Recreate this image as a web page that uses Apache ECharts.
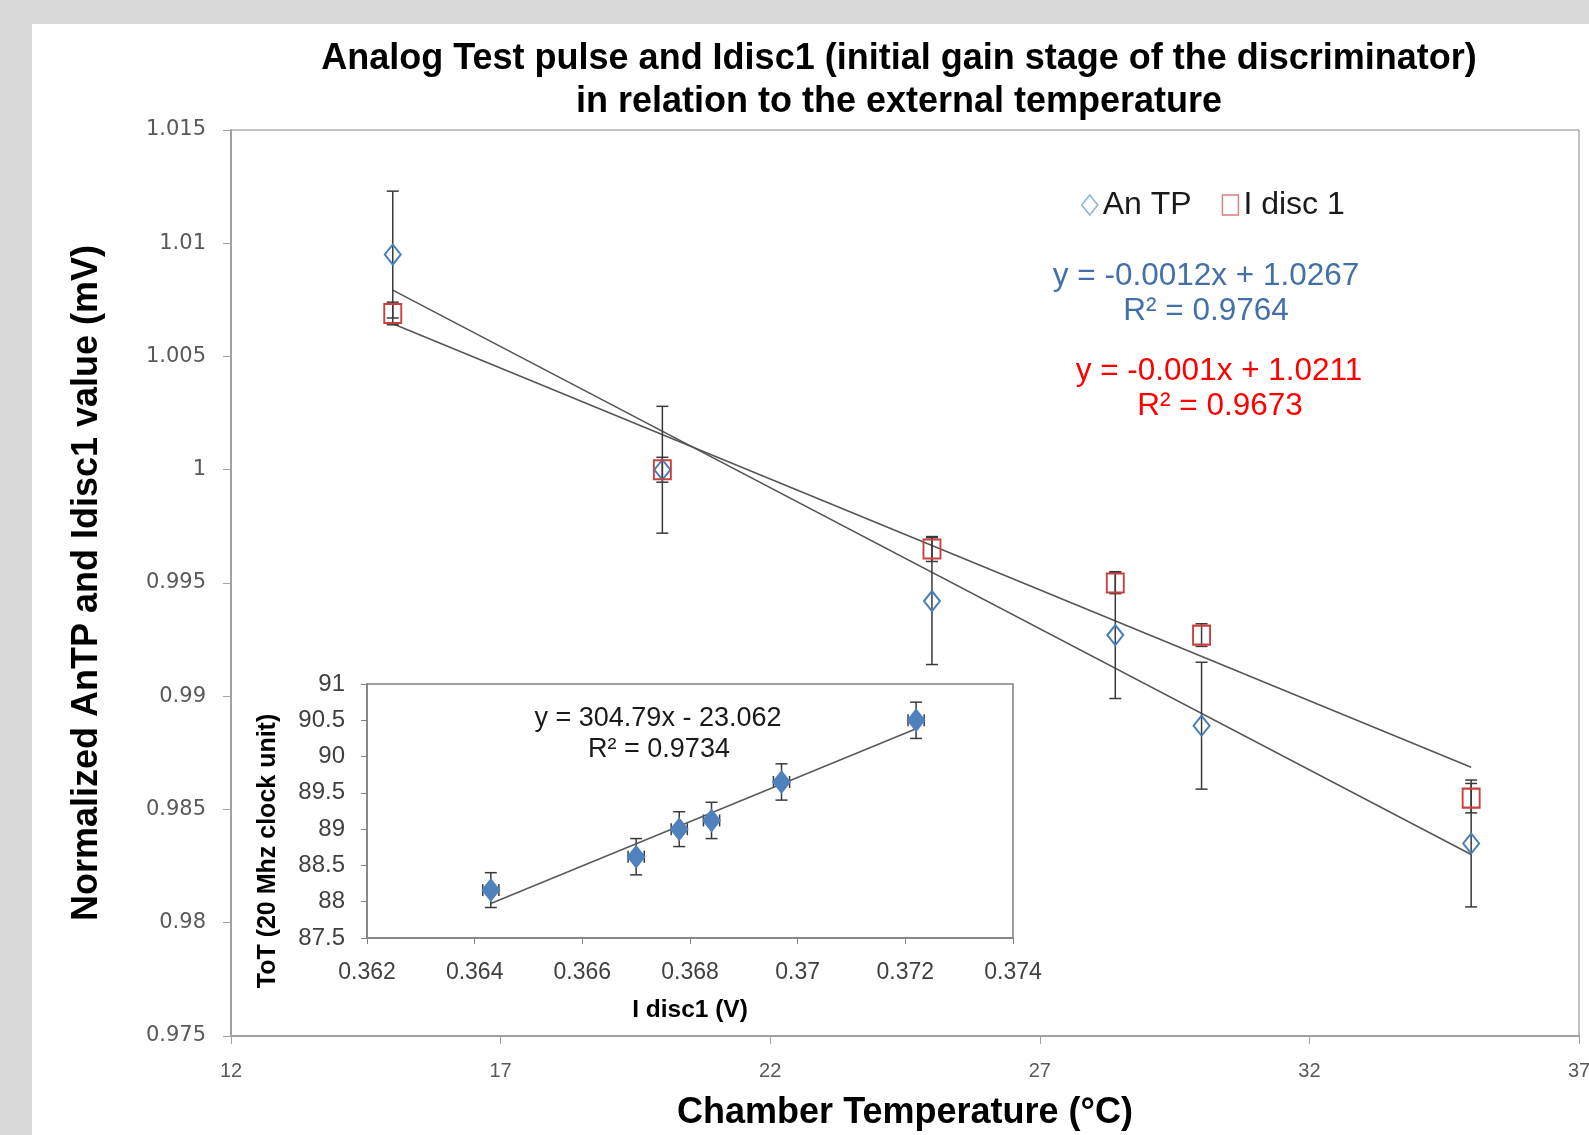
<!DOCTYPE html>
<html>
<head>
<meta charset="utf-8">
<script src="https://cdn.jsdelivr.net/npm/echarts@6.0.0/dist/echarts.min.js"></script>
<style>
html,body{margin:0;padding:0;background:#d9d9d9;}
#chart{width:1589px;height:1135px;}
</style>
</head>
<body>
<div id="chart"></div>
<script>
// ---- Main chart data ----
const tempC = [15, 20, 25, 28.4, 30, 35];
const anTP = [1.0095, 1.0000, 0.9942, 0.9927, 0.9887, 0.9835];
const anTPErr = [0.0028, 0.0028, 0.0028, 0.0028, 0.0028, 0.0028];
const iDisc1 = [1.0069, 1.0000, 0.9965, 0.9950, 0.9927, 0.9855];
const iDisc1Err = [0.0005, 0.00055, 0.00055, 0.00047, 0.0005, 0.00065];
const mainXTicks = [12, 17, 22, 27, 32, 37];
const mainYTicks = [0.975, 0.98, 0.985, 0.99, 0.995, 1, 1.005, 1.01, 1.015];
const mainYTickLabels = ['0.975', '0.98', '0.985', '0.99', '0.995', '1', '1.005', '1.01', '1.015'];

// ---- Inset data ----
const insetIDisc = [0.3643, 0.3670, 0.3678, 0.3684, 0.3697, 0.3722];
const insetIDiscErr = [0.00015, 0.00015, 0.00015, 0.00015, 0.00015, 0.00015];
const insetToT = [88.16, 88.62, 89.00, 89.12, 89.65, 90.50];
const insetToTErr = [0.24, 0.25, 0.24, 0.25, 0.25, 0.25];
const insetXTicks = [0.362, 0.364, 0.366, 0.368, 0.37, 0.372, 0.374];
const insetXTickLabels = ['0.362', '0.364', '0.366', '0.368', '0.37', '0.372', '0.374'];
const insetYTicks = [87.5, 88, 88.5, 89, 89.5, 90, 90.5, 91];
const insetYTickLabels = ['87.5', '88', '88.5', '89', '89.5', '90', '90.5', '91'];

// ---- Texts ----
const titleText = 'Analog Test pulse and Idisc1 (initial gain stage of the discriminator)\nin relation to the external temperature';
const eqAnTP = ['y = -0.0012x + 1.0267', 'R² = 0.9764'];
const eqIDisc = ['y = -0.001x + 1.0211', 'R² = 0.9673'];
const eqInset = ['y = 304.79x - 23.062', 'R² = 0.9734'];

function linFit(xs, ys) {
  const n = xs.length;
  const mx = xs.reduce((a, b) => a + b, 0) / n;
  const my = ys.reduce((a, b) => a + b, 0) / n;
  let sxy = 0, sxx = 0;
  for (let i = 0; i < n; i++) { sxy += (xs[i] - mx) * (ys[i] - my); sxx += (xs[i] - mx) * (xs[i] - mx); }
  const b = sxy / sxx;
  return { a: my - b * mx, b };
}
function trendPoints(xs, ys) {
  const f = linFit(xs, ys);
  const x0 = Math.min(...xs), x1 = Math.max(...xs);
  return [[x0, f.a + f.b * x0], [x1, f.a + f.b * x1]];
}
function zip(xs, ys) { return xs.map((x, i) => [x, ys[i]]); }

function errRender(capW, withX, color) {
  return function (params, api) {
    const x = api.value(0), y = api.value(1), ey = api.value(2), ex = api.value(3);
    const st = { stroke: color, lineWidth: 1.5, fill: null };
    const t = api.coord([x, y + ey]);
    const b = api.coord([x, y - ey]);
    const children = [
      { type: 'line', shape: { x1: t[0], y1: t[1], x2: b[0], y2: b[1] }, style: st },
      { type: 'line', shape: { x1: t[0] - capW, y1: t[1], x2: t[0] + capW, y2: t[1] }, style: st },
      { type: 'line', shape: { x1: b[0] - capW, y1: b[1], x2: b[0] + capW, y2: b[1] }, style: st }
    ];
    if (withX) {
      const l = api.coord([x - ex, y]);
      const r = api.coord([x + ex, y]);
      children.push(
        { type: 'line', shape: { x1: l[0], y1: l[1], x2: r[0], y2: r[1] }, style: st },
        { type: 'line', shape: { x1: l[0], y1: l[1] - capW, x2: l[0], y2: l[1] + capW }, style: st },
        { type: 'line', shape: { x1: r[0], y1: r[1] - capW, x2: r[0], y2: r[1] + capW }, style: st }
      );
    }
    return { type: 'group', children };
  };
}

const FONT = 'Liberation Sans';
const blueC = '#4a7ebb';
const redC = '#cc3f3f';

const chart = echarts.init(document.getElementById('chart'), null, { renderer: 'canvas' });
const option = {
  backgroundColor: '#d9d9d9',
  animation: false,
  title: {
    text: titleText,
    left: 899, top: 37, padding: 0, textAlign: 'center',
    textStyle: { fontFamily: FONT, fontWeight: 'bold', fontSize: 36, lineHeight: 43.5, color: '#000' }
  },
  legend: {
    left: 1081, top: 189, padding: 0, itemGap: 30, itemWidth: 16, itemHeight: 20,
    textStyle: { fontFamily: FONT, fontSize: 32, color: '#1a1a1a' },
    data: [
      { name: 'An TP', icon: 'diamond', itemStyle: { color: 'rgba(0,0,0,0)', borderColor: '#8fb3dd', borderWidth: 1.5 } },
      { name: 'I disc 1', icon: 'rect', itemStyle: { color: 'rgba(0,0,0,0)', borderColor: '#d98080', borderWidth: 1.5 } }
    ]
  },
  graphic: [
    { type: 'rect', z: -100, silent: true, shape: { x: 32, y: 24, width: 1600, height: 1200 }, style: { fill: '#ffffff' } },
    { type: 'text', x: 1206, y: 276, style: { text: eqAnTP[0], font: '31.5px "Liberation Sans"', fill: '#4470a8', align: 'center', verticalAlign: 'middle' } },
    { type: 'text', x: 1206, y: 311, style: { text: eqAnTP[1], font: '31.5px "Liberation Sans"', fill: '#4470a8', align: 'center', verticalAlign: 'middle' } },
    { type: 'text', x: 1219, y: 371, style: { text: eqIDisc[0], font: '31.5px "Liberation Sans"', fill: '#ff0000', align: 'center', verticalAlign: 'middle' } },
    { type: 'text', x: 1220, y: 406, style: { text: eqIDisc[1], font: '31.5px "Liberation Sans"', fill: '#ff0000', align: 'center', verticalAlign: 'middle' } },
    { type: 'text', x: 658, y: 719, z: 10, style: { text: eqInset[0], font: '27px "Liberation Sans"', fill: '#1a1a1a', align: 'center', verticalAlign: 'middle' } },
    { type: 'text', x: 659, y: 750, z: 10, style: { text: eqInset[1], font: '27px "Liberation Sans"', fill: '#1a1a1a', align: 'center', verticalAlign: 'middle' } },
    { type: 'text', x: 268, y: 851, rotation: Math.PI / 2, z: 10, style: { text: 'ToT (20 Mhz clock unit)', font: 'bold 25px "Liberation Sans"', fill: '#000', align: 'center', verticalAlign: 'middle' } }
  ],
  grid: [
    { left: 231, top: 130, width: 1348, height: 906, show: true, borderColor: '#868686', borderWidth: 1, containLabel: false, outerBoundsMode: 'none' },
    { left: 367, top: 684, width: 646, height: 254, show: true, backgroundColor: '#ffffff', borderColor: '#808080', borderWidth: 1.5, containLabel: false, outerBoundsMode: 'none' }
  ],
  xAxis: [
    {
      type: 'value', gridIndex: 0, min: 12, max: 37,
      axisLine: { show: true, onZero: false, lineStyle: { color: '#a0a0a0', width: 2 } },
      axisTick: { show: true, customValues: mainXTicks, length: 8, lineStyle: { color: '#a0a0a0' } },
      axisLabel: { customValues: mainXTicks, fontFamily: FONT, fontSize: 20, color: '#595959', margin: 25 },
      splitLine: { show: false },
      name: 'Chamber Temperature (°C)', nameLocation: 'middle', nameGap: 59,
      nameTextStyle: { fontFamily: FONT, fontWeight: 'bold', fontSize: 36, color: '#000' }
    },
    {
      type: 'value', gridIndex: 1, min: 0.362, max: 0.374,
      axisLine: { show: true, onZero: false, lineStyle: { color: '#808080', width: 1.5 } },
      axisTick: { show: true, customValues: insetXTicks, length: 6, lineStyle: { color: '#808080' } },
      axisLabel: { customValues: insetXTicks, formatter: v => insetXTickLabels[insetXTicks.indexOf(v)] ?? String(v), fontFamily: FONT, fontSize: 23, color: '#404040', margin: 23 },
      splitLine: { show: false },
      name: 'I disc1 (V)', nameLocation: 'middle', nameGap: 60,
      nameTextStyle: { fontFamily: FONT, fontWeight: 'bold', fontSize: 24.5, color: '#000' }
    }
  ],
  yAxis: [
    {
      type: 'value', gridIndex: 0, min: 0.975, max: 1.015,
      axisLine: { show: true, onZero: false, lineStyle: { color: '#a0a0a0', width: 2 } },
      axisTick: { show: true, customValues: mainYTicks, length: 8, lineStyle: { color: '#a0a0a0' } },
      axisLabel: { customValues: mainYTicks, formatter: v => mainYTickLabels[mainYTicks.indexOf(v)] ?? String(v), fontFamily: 'DejaVu Sans', fontSize: 21, color: '#595959', margin: 25 },
      splitLine: { show: false },
      name: 'Normalized AnTP and Idisc1 value (mV)', nameLocation: 'middle', nameGap: 126,
      nameTextStyle: { fontFamily: FONT, fontWeight: 'bold', fontSize: 36, color: '#000' }
    },
    {
      type: 'value', gridIndex: 1, min: 87.5, max: 91,
      axisLine: { show: true, onZero: false, lineStyle: { color: '#808080', width: 1.5 } },
      axisTick: { show: true, customValues: insetYTicks, length: 6, lineStyle: { color: '#808080' } },
      axisLabel: { customValues: insetYTicks, formatter: v => insetYTickLabels[insetYTicks.indexOf(v)] ?? String(v), fontFamily: FONT, fontSize: 24, color: '#404040', margin: 22 },
      splitLine: { show: false }
    }
  ],
  series: [
    {
      name: 'An TP err', type: 'custom', xAxisIndex: 0, yAxisIndex: 0, z: 3, silent: true,
      renderItem: errRender(6, false, '#3a3a3a'),
      encode: { x: 0, y: 1 },
      data: tempC.map((t, i) => [t, anTP[i], anTPErr[i], 0])
    },
    {
      name: 'I disc 1 err', type: 'custom', xAxisIndex: 0, yAxisIndex: 0, z: 3, silent: true,
      renderItem: errRender(6, false, '#3a3a3a'),
      encode: { x: 0, y: 1 },
      data: tempC.map((t, i) => [t, iDisc1[i], iDisc1Err[i], 0])
    },
    {
      name: 'An TP trend', type: 'line', xAxisIndex: 0, yAxisIndex: 0, z: 2, silent: true,
      symbol: 'none', lineStyle: { color: '#555555', width: 1.5 },
      data: trendPoints(tempC, anTP)
    },
    {
      name: 'I disc 1 trend', type: 'line', xAxisIndex: 0, yAxisIndex: 0, z: 2, silent: true,
      symbol: 'none', lineStyle: { color: '#555555', width: 1.5 },
      data: trendPoints(tempC, iDisc1)
    },
    {
      name: 'An TP', type: 'scatter', xAxisIndex: 0, yAxisIndex: 0, z: 5,
      symbol: 'diamond', symbolSize: [16, 20],
      itemStyle: { color: 'rgba(0,0,0,0)', borderColor: blueC, borderWidth: 2, opacity: 1 },
      data: zip(tempC, anTP)
    },
    {
      name: 'I disc 1', type: 'scatter', xAxisIndex: 0, yAxisIndex: 0, z: 5,
      symbol: 'rect', symbolSize: [17, 19],
      itemStyle: { color: 'rgba(0,0,0,0)', borderColor: redC, borderWidth: 2, opacity: 1 },
      data: zip(tempC, iDisc1)
    },
    {
      name: 'Inset err', type: 'custom', xAxisIndex: 1, yAxisIndex: 1, z: 6, silent: true,
      renderItem: errRender(6, true, '#3a3a3a'),
      encode: { x: 0, y: 1 },
      data: insetIDisc.map((v, i) => [v, insetToT[i], insetToTErr[i], insetIDiscErr[i]])
    },
    {
      name: 'Inset trend', type: 'line', xAxisIndex: 1, yAxisIndex: 1, z: 6, silent: true,
      symbol: 'none', lineStyle: { color: '#595959', width: 1.5 },
      data: trendPoints(insetIDisc, insetToT)
    },
    {
      name: 'ToT', type: 'scatter', xAxisIndex: 1, yAxisIndex: 1, z: 7,
      symbol: 'diamond', symbolSize: [19, 24],
      itemStyle: { color: '#4f81bd', opacity: 1 },
      data: zip(insetIDisc, insetToT)
    }
  ]
};
chart.setOption(option);
</script>
</body>
</html>
